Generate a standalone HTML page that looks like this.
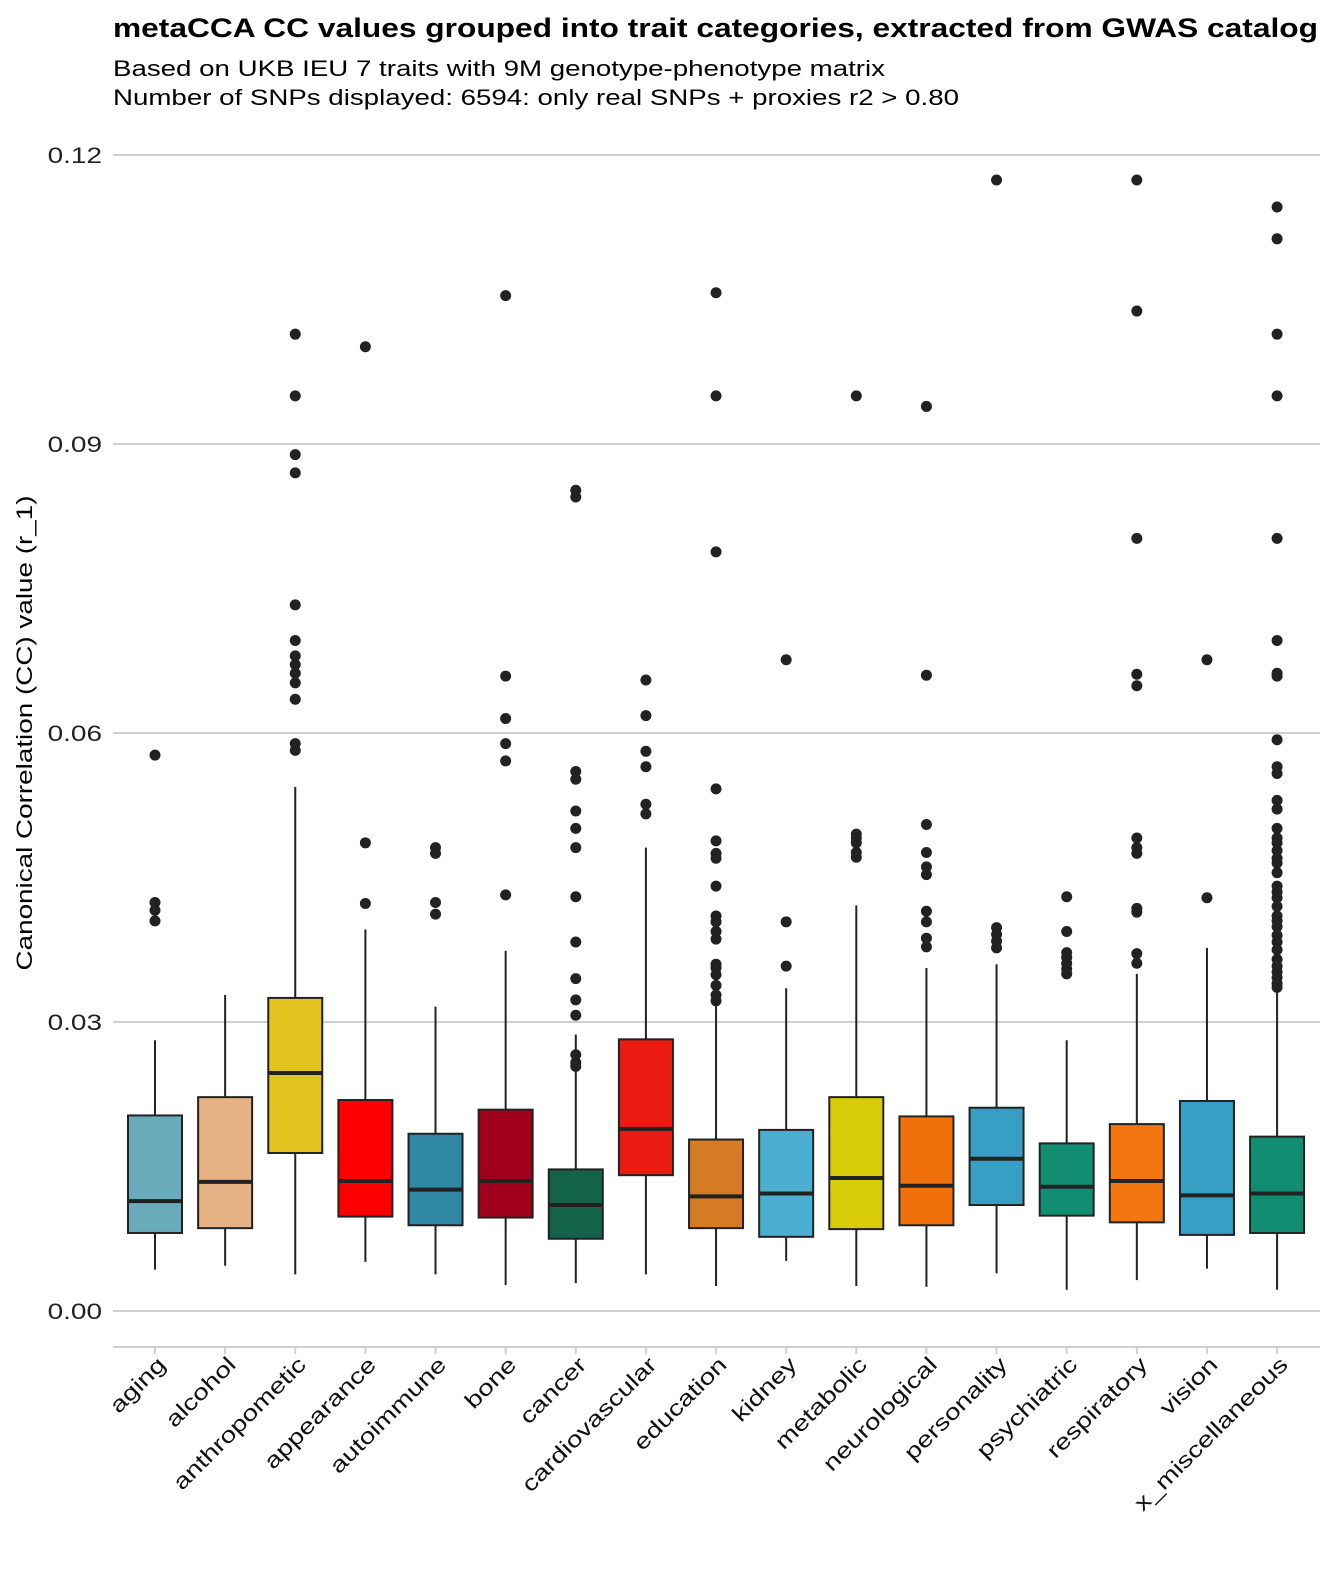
<!DOCTYPE html>
<html><head><meta charset="utf-8">
<style>
body{margin:0;background:#fff;}
svg{display:block;font-family:"Liberation Sans",Arial,sans-serif;}
</style></head>
<body>
<svg id="chart" width="1338" height="1574" viewBox="0 0 1338 1574" xmlns="http://www.w3.org/2000/svg">
<text x="113" y="37" font-size="27" font-weight="bold" fill="#000" textLength="1205" lengthAdjust="spacingAndGlyphs">metaCCA CC values grouped into trait categories, extracted from GWAS catalog</text>
<text x="113" y="76" font-size="22" fill="#000" textLength="772" lengthAdjust="spacingAndGlyphs">Based on UKB IEU 7 traits with 9M genotype-phenotype matrix</text>
<text x="113" y="105" font-size="22" fill="#000" textLength="846" lengthAdjust="spacingAndGlyphs">Number of SNPs displayed: 6594: only real SNPs + proxies r2 &gt; 0.80</text>
<text transform="translate(32,733) rotate(-90)" text-anchor="middle" font-size="22" fill="#000" textLength="475" lengthAdjust="spacingAndGlyphs">Canonical Correlation (CC) value (r_1)</text>
<g id="grid"></g><g id="marks"></g>
</svg>
<script>
const categories=["aging","alcohol","anthropometic","appearance","autoimmune","bone","cancer","cardiovascular","education","kidney","metabolic","neurological","personality","psychiatric","respiratory","vision","x_miscellaneous"];
const colors=["#6aabbb","#e6b283","#e3c31f","#fe0000","#2f87a3","#a0001c","#12634a","#ec1b12","#d57b23","#4bafcf","#d9cc08","#f07109","#379fc4","#118e71","#f47610","#379fc4","#118e71"];
const whiskerLow=[.0043,.0047,.0038,.0051,.0038,.0027,.0029,.0038,.0026,.0052,.0026,.0025,.0039,.0022,.0032,.0044,.0022];
const q1=[.0081,.0086,.0164,.0098,.0089,.0097,.0075,.0141,.0086,.0077,.0085,.0089,.0110,.0099,.0092,.0079,.0081];
const median=[.0114,.0134,.0247,.0135,.0126,.0135,.0110,.0189,.0119,.0122,.0138,.0130,.0158,.0129,.0135,.0120,.0122];
const q3=[.0203,.0222,.0325,.0219,.0184,.0209,.0147,.0282,.0178,.0188,.0222,.0202,.0211,.0174,.0194,.0218,.0181];
const whiskerHigh=[.0281,.0328,.0544,.0396,.0316,.0374,.0287,.0481,.0318,.0335,.0421,.0356,.0360,.0281,.0350,.0377,.0336];
const outliers=[
[.0577,.0424,.0416,.0405],
[],
[.1014,.0950,.0889,.0870,.0733,.0696,.0680,.0671,.0662,.0652,.0635,.0589,.0582],
[.1001,.0486,.0423],
[.0481,.0475,.0424,.0412],
[.1054,.0659,.0615,.0589,.0571,.0432],
[.0852,.0845,.0560,.0552,.0519,.0501,.0481,.0430,.0383,.0345,.0323,.0307,.0266,.0258,.0254],
[.0655,.0618,.0581,.0565,.0526,.0516],
[.1057,.0950,.0788,.0542,.0488,.0475,.0470,.0441,.0410,.0404,.0394,.0386,.0360,.0356,.0349,.0338,.0328,.0322],
[.0676,.0404,.0358],
[.0950,.0495,.0491,.0486,.0476,.0471],
[.0939,.0660,.0505,.0476,.0461,.0453,.0415,.0404,.0387,.0378],
[.1174,.0398,.0391,.0384,.0377],
[.0430,.0394,.0372,.0367,.0361,.0355,.0350],
[.1174,.1038,.0802,.0661,.0649,.0491,.0481,.0475,.0418,.0414,.0371,.0361],
[.0676,.0429],
[.1146,.1113,.1014,.0950,.0802,.0696,.0662,.0659,.0593,.0565,.0558,.0530,.0521,.0501,.0491,.0486,.0478,.0470,.0465,.0455,.0441,.0435,.0429,.0420,.0410,.0405,.0399,.0390,.0383,.0375,.0365,.0358,.0352,.0346,.0340,.0336]
];
const yTicks=[0,0.03,0.06,0.09,0.12];
const yTickLabels=["0.00","0.03","0.06","0.09","0.12"];

const NS="http://www.w3.org/2000/svg";
const y=v=>1311-(v/0.12)*1156;
const x=i=>155+i*70.13;
function mk(tag,attrs,parent){const e=document.createElementNS(NS,tag);for(const k in attrs)e.setAttribute(k,attrs[k]);parent.appendChild(e);return e;}
function stretch(t,f){const w=t.getComputedTextLength();t.setAttribute('textLength',(w*f).toFixed(1));t.setAttribute('lengthAdjust','spacingAndGlyphs');}
const grid=document.getElementById('grid'),marks=document.getElementById('marks');
yTicks.forEach((t,i)=>{
  const l=mk('line',{x1:113,x2:1320,y1:y(t),y2:y(t),stroke:'#d0d0d0','stroke-width':2},grid);
  
  
  const tx=mk('text',{x:102,y:y(t)+8,'text-anchor':'end','font-size':22,fill:'#222'},grid);
  tx.textContent=yTickLabels[i];
  
  
  stretch(tx,1.27);
});
const ax=mk('line',{x1:113,x2:1320,y1:1347,y2:1347,stroke:'#d0d0d0','stroke-width':2},grid);


categories.forEach((c,i)=>{
  const cx=x(i),w=27;
  const g=mk('g',{},marks);
  
  
  const tk=mk('line',{x1:cx,x2:cx,y1:1347,y2:1354,stroke:'#d0d0d0','stroke-width':2},grid);
  
  
  mk('line',{x1:cx,x2:cx,y1:y(whiskerLow[i]),y2:y(whiskerHigh[i]),stroke:'#222','stroke-width':2},g);
  mk('rect',{x:cx-w,y:y(q3[i]),width:2*w,height:y(q1[i])-y(q3[i]),fill:colors[i],stroke:'#222','stroke-width':2},g);
  mk('line',{x1:cx-w,x2:cx+w,y1:y(median[i]),y2:y(median[i]),stroke:'#222','stroke-width':4},g);
  outliers[i].forEach(v=>{
    const p=mk('circle',{cx:cx,cy:y(v),r:5.5,fill:'#222'},g);
    
    
  });
  const lb=mk('text',{transform:`translate(${cx+12},${1366}) rotate(-45)`,'text-anchor':'end','font-size':22,fill:'#111'},grid);
  lb.textContent=c;
  
  
  stretch(lb,1.27);
});
</script>
</body></html>
